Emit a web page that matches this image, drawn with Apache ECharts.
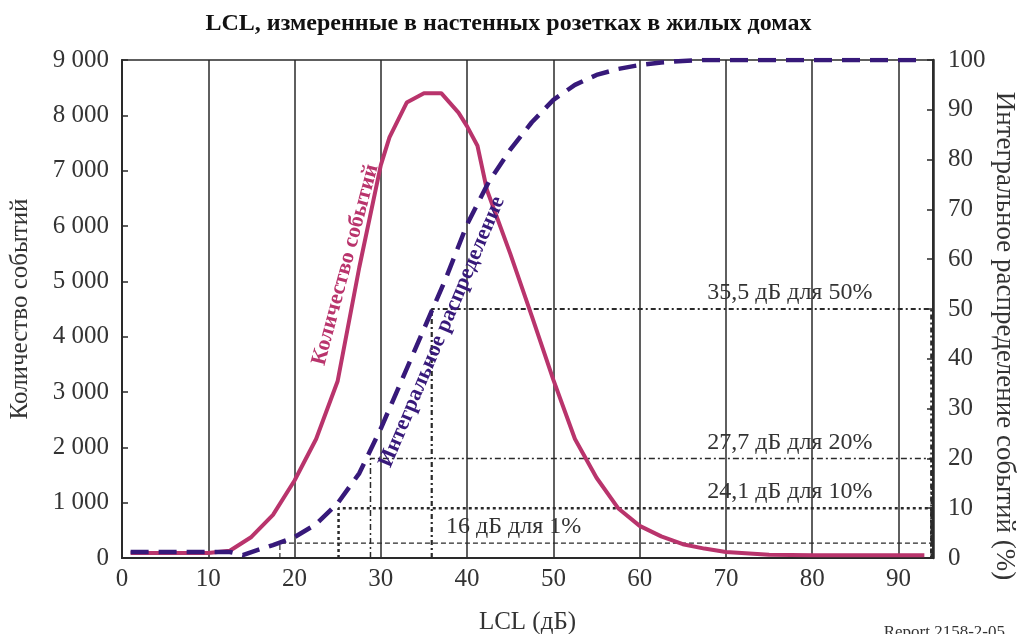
<!DOCTYPE html>
<html><head><meta charset="utf-8">
<script src="https://cdn.jsdelivr.net/npm/echarts@6/dist/echarts.min.js"></script>
<style>html,body{margin:0;padding:0;background:#fff}#c{width:1017px;height:634px}</style>
</head><body><div id="c"></div>
<script>
// Count of events (left axis)
const countX = [1, 10, 12.5, 15, 17.5, 20, 22.5, 25, 27.5, 30, 31, 33, 35, 37, 39, 40, 41.2, 42.3, 45, 47.5, 50, 52.5, 55, 57.5, 60, 62.5, 65, 67.5, 70, 75, 80, 93];
const countY = [90, 90, 130, 380, 780, 1400, 2150, 3200, 5250, 7100, 7600, 8230, 8400, 8400, 8050, 7800, 7450, 6650, 5500, 4370, 3220, 2150, 1450, 900, 580, 390, 250, 170, 110, 60, 50, 50];
// Cumulative distribution (right axis, %)
const cumX = [1, 12.5, 14, 15, 17.5, 20, 22.5, 25, 27.5, 30, 32.5, 35, 37.5, 40, 42.5, 45, 47.5, 50, 52.5, 55, 57.5, 60, 62.5, 65, 67.5, 70, 93];
const cumY = [1.2, 1.2, 0.6, 1.2, 2.6, 4.2, 6.8, 11, 17, 26, 36, 46, 56, 67, 75.5, 82, 87.5, 92, 95, 97, 98.2, 99, 99.5, 99.8, 100, 100, 100];
// Annotation rectangles (x where level reached, level %)
const annotX = [18.3, 25.1, 28.8, 35.9];
const annotPct = [3, 10, 20, 50];
const annotRight = 93.8;
const annotText = ['16 дБ для 1%', '24,1 дБ для 10%', '27,7 дБ для 20%', '35,5 дБ для 50%'];
const annotTextX = [45.4, 77.4, 77.4, 77.4];
// Axis ranges
const xMin = 0, xMax = 94, xStep = 10;
const leftMax = 9000, leftStep = 1000;
const rightMax = 100, rightStep = 10;
// Texts
const title = 'LCL, измеренные в настенных розетках в жилых домах';
const xName = 'LCL (дБ)';
const leftName = 'Количество событий';
const rightName = 'Интегральное распределение событий (%)';
const countLabel = 'Количество событий';
const cumLabel = 'Интегральное распределение';
const countLabelPos = [25.9, 5300];
const cumLabelPos = [37.1, 45.4];
const reportText = 'Report 2158-2-05';

const PINK = '#B9346C', PURPLE = '#37197A', INK = '#2a2a2a';
const FONT = '"Liberation Serif", "DejaVu Serif", serif';

const zip = (a, b) => a.map((v, i) => [v, b[i]]);
const rect = (x, p) => [[x, 0], [x, p], [annotRight, p], [annotRight, 0]];
const annotStyles = [
  {width: 1.2, type: [5, 3], color: INK},
  {width: 2.5, type: [3, 3], color: INK},
  {width: 1.5, type: [6, 3, 2, 3], color: INK},
  {width: 2.2, type: [5, 3, 2, 3], color: INK}
];

const series = [];
annotX.forEach((x, i) => {
  series.push({
    type: 'line', yAxisIndex: 1, data: rect(x, annotPct[i]), showSymbol: false, silent: true,
    lineStyle: annotStyles[i], z: 1, animation: false
  });
});
series.push({
  type: 'line', yAxisIndex: 0, data: zip(countX, countY), showSymbol: false,
  lineStyle: {color: PINK, width: 4}, z: 3, animation: false
});
series.push({
  type: 'line', yAxisIndex: 1, data: zip(cumX, cumY), showSymbol: false,
  lineStyle: {color: PURPLE, width: 4.5, type: [18, 10]}, z: 4, animation: false
});

const chart = echarts.init(document.getElementById('c'), null, {renderer: 'canvas'});
chart.setOption({
  backgroundColor: '#fff',
  animation: false,
  title: {text: title, left: 'center', top: 7, textStyle: {fontFamily: FONT, fontSize: 24, fontWeight: 'bold', color: '#111'}},
  grid: {left: 122, right: 84, top: 60, bottom: 76, show: true, borderColor: INK, borderWidth: 1.5,
    containLabel: false, outerBoundsMode: 'none'},
  xAxis: {
    type: 'value', min: xMin, max: xMax, interval: xStep,
    name: xName, nameLocation: 'middle', nameGap: 52,
    nameTextStyle: {fontFamily: FONT, fontSize: 25, color: '#333'},
    axisLine: {lineStyle: {color: INK, width: 2}},
    axisTick: {show: false},
    axisLabel: {fontFamily: FONT, fontSize: 25, color: '#333', margin: 9,
      formatter: v => (v % xStep === 0 ? String(v) : '')},
    splitLine: {show: true, lineStyle: {color: INK, width: 1.5}}
  },
  yAxis: [{
    type: 'value', min: 0, max: leftMax, interval: leftStep, position: 'left',
    name: leftName, nameLocation: 'middle', nameGap: 89,
    nameTextStyle: {fontFamily: FONT, fontSize: 25, color: '#333'},
    axisLine: {show: true, lineStyle: {color: INK, width: 2}},
    axisTick: {show: true, inside: true, length: 6, lineStyle: {color: INK, width: 1.5}},
    axisLabel: {fontFamily: FONT, fontSize: 25, color: '#333', margin: 13,
      formatter: v => String(v).replace(/\B(?=(\d{3})+(?!\d))/g, ' ')},
    splitLine: {show: false}
  }, {
    type: 'value', min: 0, max: rightMax, interval: rightStep, position: 'right',
    axisLine: {show: true, lineStyle: {color: INK, width: 2.5}},
    axisTick: {show: true, inside: true, length: 6, lineStyle: {color: INK, width: 1.5}},
    axisLabel: {fontFamily: FONT, fontSize: 25, color: '#333', margin: 15},
    splitLine: {show: false}
  }],
  series: series
});

// Text annotations placed through the chart's own scales
const g = [];
annotText.forEach((t, i) => {
  const p = chart.convertToPixel({gridIndex: 0}, [annotTextX[i], 0]);
  const py = chart.convertToPixel({yAxisIndex: 1}, annotPct[i]);
  g.push({type: 'text', x: p[0], y: py - 4, z: 10,
    style: {text: t, fontFamily: FONT, fontSize: 24, fill: '#333', textAlign: 'center', textVerticalAlign: 'bottom'}});
});
const pc = chart.convertToPixel({xAxisIndex: 0, yAxisIndex: 0}, countLabelPos);
g.push({type: 'text', x: pc[0], y: pc[1], rotation: 75 * Math.PI / 180, z: 10,
  style: {text: countLabel, fontFamily: FONT, fontSize: 22, fontWeight: 'bold', fill: PINK, textAlign: 'center', textVerticalAlign: 'middle'}});
const pu = chart.convertToPixel({xAxisIndex: 0, yAxisIndex: 1}, cumLabelPos);
g.push({type: 'text', x: pu[0], y: pu[1], rotation: 67 * Math.PI / 180, z: 10,
  style: {text: cumLabel, fontFamily: FONT, fontSize: 22, fontWeight: 'bold', fill: PURPLE, textAlign: 'center', textVerticalAlign: 'middle'}});
// Right axis name (reads top to bottom)
g.push({type: 'text', x: 1004, y: 336, rotation: -Math.PI / 2, z: 10,
  style: {text: rightName, fontFamily: FONT, fontSize: 27, fill: '#333', textAlign: 'center', textVerticalAlign: 'middle'}});
g.push({type: 'text', right: 12, top: 624, z: 10,
  style: {text: reportText, fontFamily: FONT, fontSize: 17, fill: '#333'}});
chart.setOption({graphic: g});
</script></body></html>
